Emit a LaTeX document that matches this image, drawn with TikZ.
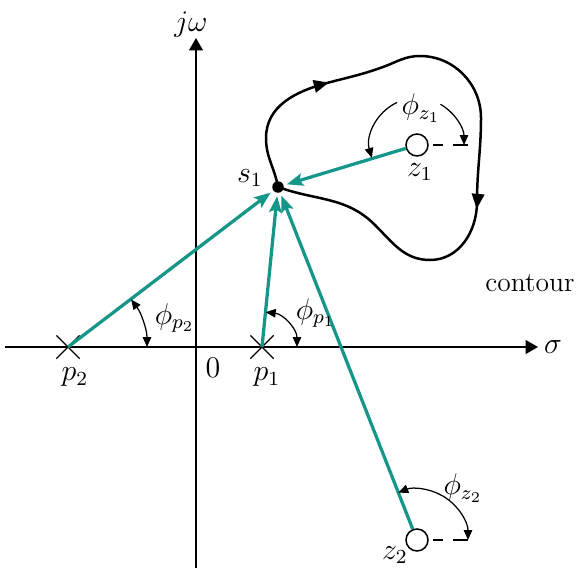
\documentclass[tikz,border=0pt]{standalone}
\usetikzlibrary{arrows.meta,positioning,shapes.misc,decorations.markings}
\definecolor{vecteal}{RGB}{22,150,136}

\begin{document}
\begin{tikzpicture}
[x=0.4pt,y=0.4pt,
 axis/.style={line width=0.6pt,-{Triangle[length=5pt,width=5.6pt]}},
 vec/.style={vecteal,line width=1.3pt,-{Stealth[length=6.5pt,width=5pt,inset=1.2pt]},shorten >=1.2pt},
 ang/.style={line width=0.5pt,{Triangle[length=4pt,width=3.4pt]}-{Triangle[length=4pt,width=3.4pt]}},
 angend/.style={line width=0.5pt,-{Triangle[length=4pt,width=3.4pt]}},
 pole/.style={cross out,draw,line width=0.5pt,minimum size=8.8pt,inner sep=0pt},
 zero/.style={circle,draw,line width=0.6pt,minimum size=8.8pt,inner sep=0pt,fill=white},
 refline/.style={line width=0.6pt,dash pattern=on 4pt off 4pt on 6pt},
 lbl/.style={font=\large}]
\useasboundingbox (0,0) rectangle (579,568);
% axes
\coordinate (xl) at (5,221);
\coordinate (xr) at (538,221);
\coordinate (yb) at (196,0);
\coordinate (yt) at (196,530);
\draw[axis] (xl) -- (xr);
\draw[axis] (yb) -- (yt);
\node[lbl] (jw) at (191,543) {$j\omega$};
\node[lbl] (sig) at (553,221) {$\sigma$};
\node[lbl] (org) at (213,200) {$0$};
% contour
\coordinate (s1p) at (278,381);
\draw[line width=1pt,line join=round,postaction={decorate},
  decoration={markings,
    mark=at position 0.21 with {\arrow{Triangle[length=6pt,width=5pt]}},
    mark=at position 0.63 with {\arrow{Triangle[length=6pt,width=5pt]}}}]
  (s1p) to[out=100,in=270] (266,430) to[out=90,in=195] (327,485)
  to[out=15,in=200] (383,501) to[out=20,in=180] (420,512)
  to[out=0,in=90] (481,450) to[out=-90,in=90] (477,366)
  to[out=-90,in=0] (430,308) to[out=180,in=-45] (375,343)
  to[out=135,in=-20] (s1p);
\node[font=\fontsize{11}{13}\selectfont] (cont) at (530,285) {contour};
% poles and zeros
\node[pole] (p2) at (68,221) {};
\node[pole] (p1) at (262,221) {};
\node[zero] (z1) at (417,423) {};
\node[zero] (z2) at (417,28) {};
\node[circle,fill,inner sep=0pt,minimum size=4.6pt] (s1) at (s1p) {};
\node[lbl] (p2l) at (75,191) {$p_2$};
\node[lbl] (p1l) at (267,191) {$p_1$};
\node[lbl] (z1l) at (420,396) {$z_1$};
\node[lbl] (z2l) at (395,13) {$z_2$};
\node[lbl] (s1l) at (250,390) {$s_1$};
% vectors to s1
\draw[vec] (p2.center) -- (s1);
\draw[vec] (p1.center) -- (s1);
\draw[vec] (z2) -- (s1);
\draw[vec] (z1) -- (s1);
% angles
\draw[refline] (433,423) -- (468,423);
\draw[refline] (433,28) -- (470,28);
\draw[ang] (p2.center) ++(0:79) arc[start angle=0,end angle=37,radius=79];
\draw[ang] (p1.center) ++(0:35) arc[start angle=0,end angle=84,radius=35];
\draw[ang] (z2.center) ++(0:51) arc[start angle=0,end angle=111.6,radius=51];
\draw[angend] (z1.center) ++(60:47) arc[start angle=60,end angle=0,radius=47];
\draw[angend] (z1.center) ++(115:47) arc[start angle=115,end angle=196,radius=47];
\node[lbl,anchor=west] (fp2) at (146,250) {$\phi_{p_2}$};
\node[lbl,anchor=west] (fp1) at (287,255) {$\phi_{p_1}$};
\node[lbl] (fz1) at (421,460) {$\phi_{z_1}$};
\node[lbl] (fz2) at (463,80) {$\phi_{z_2}$};
\end{tikzpicture}
\end{document}
